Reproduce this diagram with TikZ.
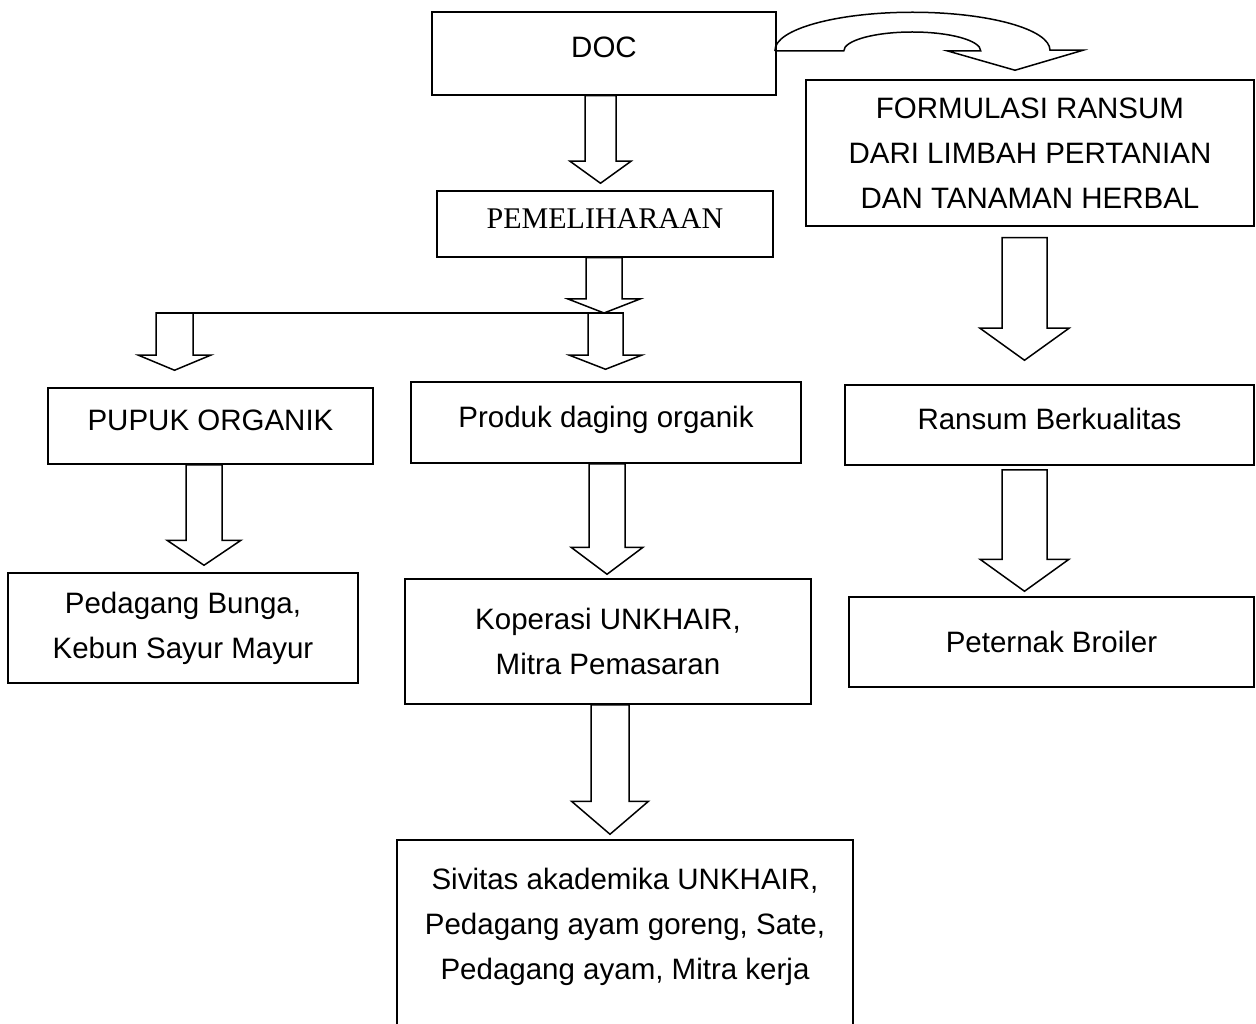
\documentclass[tikz,border=0pt]{standalone}
\usepackage{fontspec}
\setmainfont{Liberation Sans}
\newfontfamily\serifface{Liberation Serif}
\usetikzlibrary{calc}

\tikzset{
  box/.style={draw, line width=1.5pt, inner sep=0pt, align=center},
  oneline/.style={text height=21pt, text depth=12pt},
  arrowline/.style={draw, line width=1.5pt, line join=miter},
}
% block arrow: top of shaft, tip, shaft half width, head half width, head length
\newcommand{\blockarrow}[5]{%
  \draw[arrowline] let \p1=(#1), \p2=(#2) in
    (\x1-#3pt,\y1) -- (\x1-#3pt,\y2+#5pt) -- (\x1-#4pt,\y2+#5pt) -- (\x1,\y2)
    -- (\x1+#4pt,\y2+#5pt) -- (\x1+#3pt,\y2+#5pt) -- (\x1+#3pt,\y1) -- cycle;
}

\begin{document}
\begin{tikzpicture}[x=1pt,y=-1pt,font=\fontsize{29.5}{45}\selectfont]
    \useasboundingbox (0,0) rectangle (1256,1024);
    % Boxes:
    \node[box,oneline,minimum width=344pt,minimum height=83pt] (doc) at (604,53.5) {DOC};
    \node[box,oneline,minimum width=336pt,minimum height=66pt,font=\serifface\fontsize{30}{36}\selectfont] (pem) at (605,224) {PEMELIHARAAN};
    \node[box,minimum width=448pt,minimum height=146pt] (formulasi) at (1030,153)
        {FORMULASI RANSUM\\DARI LIMBAH PERTANIAN\\DAN TANAMAN HERBAL};
    \node[box,oneline,minimum width=325pt,minimum height=76pt] (pupuk) at (210.5,426) {PUPUK ORGANIK};
    \node[box,oneline,minimum width=390pt,minimum height=81pt] (produk) at (606,422.5) {Produk daging organik};
    \node[box,oneline,minimum width=409pt,minimum height=80pt] (ransum) at (1049.5,425) {Ransum Berkualitas};
    \node[box,minimum width=350pt,minimum height=110pt] (pedagang) at (183,628) {Pedagang Bunga,\\Kebun Sayur Mayur};
    \node[box,minimum width=406pt,minimum height=125pt] (koperasi) at (608,641.5) {Koperasi UNKHAIR,\\Mitra Pemasaran};
    \node[box,minimum width=405pt,minimum height=90pt] (peternak) at (1051.5,642) {Peternak Broiler};
    \node[box,text depth=22pt,minimum width=456pt,minimum height=190pt] (sivitas) at (625,935)
        {Sivitas akademika UNKHAIR,\\Pedagang ayam goreng, Sate,\\Pedagang ayam, Mitra kerja};

    % Split line below PEMELIHARAAN:
    \coordinate (splitL) at (174.5,313);
    \coordinate (splitR) at (605.5,313);
    \draw[arrowline] ($(splitL)+(-18.5,0)$) -- ($(splitR)+(17.5,0)$);

    % Block arrows:
    \blockarrow{$(doc.south)+(-3.5,0)$}{$(pem.north)+(0,-7)$}{15.5}{30.5}{22}
    \blockarrow{$(pem.south)+(-1,0)$}{splitR}{18}{36}{14}
    \blockarrow{splitL}{$(pupuk.north)+(0,-17)$}{18.5}{36}{15}
    \blockarrow{splitR}{$(produk.north)+(0,-12)$}{17.5}{36}{14}
    \blockarrow{$(pupuk.south)+(-6.5,0)$}{$(pedagang.north)+(0,-7)$}{18}{37}{25}
    \blockarrow{$(produk.south)+(1,0)$}{$(koperasi.north)+(0,-4)$}{18}{36}{27}
    \blockarrow{$(koperasi.south)+(2,0)$}{$(sivitas.north)+(0,-5)$}{19}{38.5}{33}
    \blockarrow{$(formulasi.south)+(-5.5,11)$}{$(ransum.north)+(0,-24)$}{22.5}{44.5}{32}
    \blockarrow{$(ransum.south)+(-25,4)$}{$(peternak.north)+(0,-5)$}{22.5}{44.5}{32}

    % Curved arrow from DOC to FORMULASI:
    \coordinate (cs) at ($(doc.east)+(-1,-2.5)$);
    \coordinate (ctip) at ($(formulasi.north)+(-15,-9)$);
    \draw[arrowline] (cs) -- ++(68,0) arc[start angle=180,end angle=0,x radius=68.5pt,y radius=19pt]
        -- ++(-33,0) -- (ctip) -- ++(68,-20) -- ++(-33,0)
        arc[start angle=0,end angle=180,x radius=137.5pt,y radius=38pt] -- cycle;
\end{tikzpicture}
\end{document}
